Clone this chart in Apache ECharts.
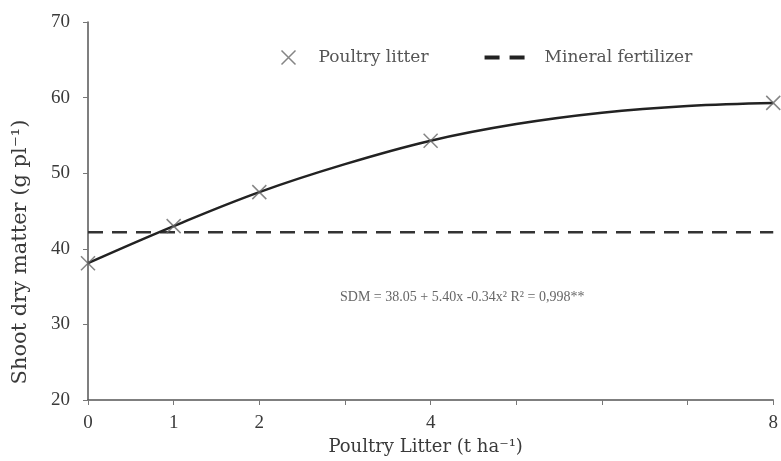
<!DOCTYPE html>
<html>
<head>
<meta charset="utf-8">
<script src="https://cdn.jsdelivr.net/npm/echarts@6/dist/echarts.min.js"></script>
<style>
  html, body { margin: 0; padding: 0; background: #fff; }
  #chart { width: 781px; height: 461px; }
</style>
</head>
<body>
<div id="chart"></div>
<script>
  // measured points (poultry litter doses, t/ha)
  var doses = [0, 1, 2, 4, 8];
  var measured = [38.1, 43.0, 47.5, 54.3, 59.3];
  // fitted curve at every integer dose
  var curveX = [0, 1, 2, 3, 4, 5, 6, 7, 8];
  var curveY = [38.1, 43.0, 47.5, 51.2, 54.3, 56.5, 58.0, 58.9, 59.3];
  // mineral fertilizer reference level
  var mineralX = [0, 8];
  var mineralY = [42.2, 42.2];
  var xLabels = { 0: '0', 1: '1', 2: '2', 4: '4', 8: '8' };

  var ink = '#3a3a3a';

  function pairs (xs, ys) {
    var out = [];
    for (var i = 0; i < xs.length; i++) {
      out.push([xs[i], ys[i]]);
    }
    return out;
  }

  var chart = echarts.init(document.getElementById('chart'));
  chart.setOption({
    animation: false,
    backgroundColor: '#fff',
    grid: { left: 88, right: 6, top: 22, bottom: 61 },
    legend: {
      top: 43,
      left: 274,
      itemGap: 56,
      itemWidth: 40,
      itemHeight: 14,
      symbolKeepAspect: true,
      textStyle: { fontFamily: 'DejaVu Serif', fontSize: 17, color: '#555' },
      data: [
        {
          name: 'Poultry litter',
          icon: 'path://M0,0L10,10M10,0L0,10',
          itemStyle: { color: 'none', borderColor: '#666', borderWidth: 1.5 },
          textStyle: { padding: [0, 0, 0, 5] }
        },
        {
          name: 'Mineral fertilizer',
          icon: 'path://M0,0H15V4H0ZM25,0H40V4H25Z',
          itemStyle: { color: '#222' },
          textStyle: { padding: [0, 0, 0, 15] }
        }
      ]
    },
    xAxis: {
      type: 'value',
      min: 0,
      max: 8,
      interval: 1,
      splitLine: { show: false },
      axisLine: { lineStyle: { color: '#555', width: 1.5 } },
      axisTick: { length: 5, lineStyle: { color: '#777' } },
      axisLabel: {
        fontFamily: 'Liberation Serif', fontSize: 19, color: ink, margin: 14,
        formatter: function (v) { return xLabels[v] !== undefined ? xLabels[v] : ''; }
      },
      name: 'Poultry Litter (t ha\u207B\u00B9)',
      nameLocation: 'middle',
      nameGap: 30,
      nameTextStyle: { fontFamily: 'DejaVu Serif', fontSize: 18, color: ink, padding: [0, 10, 0, 0] }
    },
    yAxis: {
      type: 'value',
      min: 20,
      max: 70,
      interval: 10,
      splitLine: { show: false },
      axisLine: { show: true, lineStyle: { color: '#555', width: 1.5 } },
      axisTick: { show: true, length: 5, lineStyle: { color: '#777' } },
      axisLabel: { fontFamily: 'Liberation Serif', fontSize: 19, color: ink, margin: 18 }
    },
    graphic: [
      {
        type: 'text',
        x: 21,
        y: 252,
        rotation: Math.PI / 2,
        style: {
          text: 'Shoot dry matter (g pl\u207B\u00B9)',
          font: '21px "DejaVu Serif"',
          fill: ink,
          textAlign: 'center',
          textVerticalAlign: 'middle'
        }
      },
      {
        type: 'text',
        left: 340,
        top: 290,
        style: {
          text: 'SDM = 38.05 + 5.40x -0.34x\u00B2 R\u00B2 = 0,998**',
          font: '14px "Liberation Serif"',
          fill: '#666'
        }
      }
    ],
    series: [
      {
        name: 'fit',
        type: 'line',
        data: pairs(curveX, curveY),
        smooth: 0.4,
        symbol: 'none',
        lineStyle: { color: '#222', width: 2.5 },
        z: 3
      },
      {
        name: 'Mineral fertilizer',
        type: 'line',
        data: pairs(mineralX, mineralY),
        symbol: 'none',
        lineStyle: { color: '#333', width: 2.5, type: [15, 9] },
        itemStyle: { color: '#333' },
        z: 2
      },
      {
        name: 'Poultry litter',
        type: 'scatter',
        data: pairs(doses, measured),
        symbol: 'path://M0,0L10,10M10,0L0,10',
        symbolSize: 14,
        itemStyle: { color: 'none', borderColor: '#666', borderWidth: 1.5 },
        z: 4
      }
    ]
  });
</script>
</body>
</html>
